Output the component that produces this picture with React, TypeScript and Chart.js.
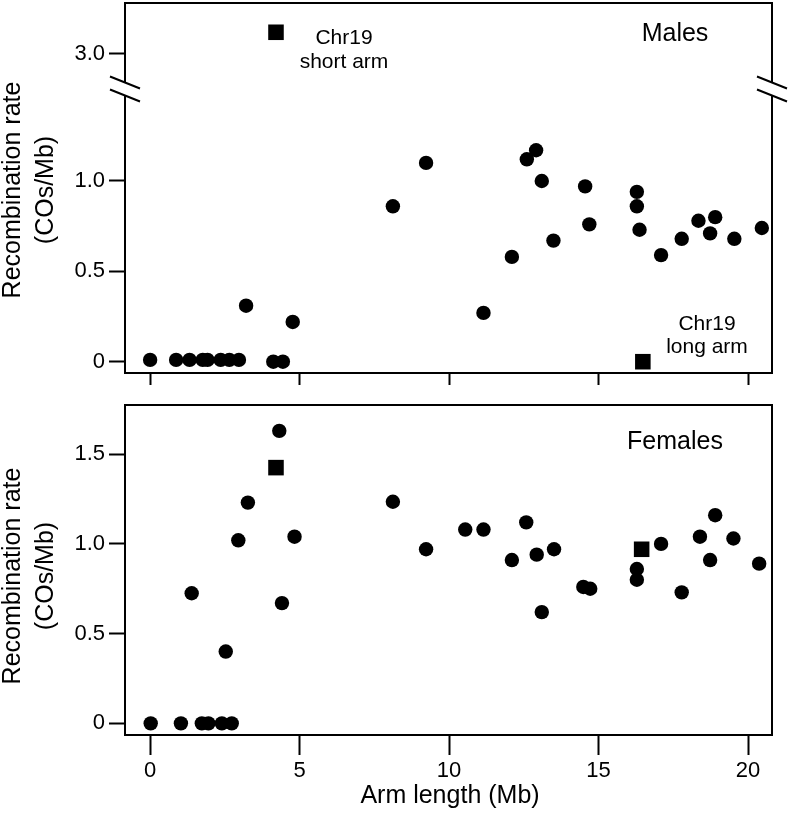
import React, { useEffect, useRef } from 'react';
import { Chart, registerables } from 'chart.js';

Chart.register(...registerables);

const FONT = "'Liberation Sans', Arial, Helvetica, sans-serif";

// ---- Data ----
const xTickValues = [0, 5, 10, 15, 20];
const maleLowerTicks = [0, 0.5, 1.0];
const maleUpperTicks = [3.0];
const femaleTicks = [0, 0.5, 1.0, 1.5];

// Males: arm length (Mb) and recombination rate (COs/Mb)
const maleArmLength = [0.0, 0.87, 1.32, 1.76, 1.92, 2.36, 2.65, 2.97, 3.21, 4.12, 4.44, 4.77, 8.12, 9.23, 11.15, 12.1, 12.6, 12.91, 13.1, 13.49, 14.55, 14.69, 16.28, 16.28, 16.37, 17.09, 17.78, 18.34, 18.73, 18.9, 19.54, 20.46];
const maleRate = [0.01, 0.01, 0.01, 0.01, 0.01, 0.01, 0.01, 0.01, 0.31, 0.0, 0.0, 0.22, 0.86, 1.1, 0.27, 0.58, 1.12, 1.17, 1.0, 0.67, 0.97, 0.76, 0.94, 0.86, 0.73, 0.59, 0.68, 0.78, 0.71, 0.8, 0.68, 0.74];
const maleChr19ShortLength = [4.21];
const maleChr19ShortRate = [3.12];
const maleChr19LongLength = [16.48];
const maleChr19LongRate = [0.0];

// Females
const femaleArmLength = [0.02, 1.03, 1.39, 1.73, 1.95, 2.4, 2.53, 2.73, 2.95, 3.27, 4.32, 4.41, 4.83, 8.12, 9.23, 10.54, 11.15, 12.1, 12.58, 12.93, 13.1, 13.51, 14.49, 14.72, 16.28, 16.28, 17.09, 17.78, 18.39, 18.73, 18.9, 19.51, 20.37];
const femaleRate = [0, 0, 0.725, 0, 0, 0, 0.4, 0, 1.02, 1.23, 1.63, 0.67, 1.04, 1.235, 0.97, 1.08, 1.08, 0.91, 1.12, 0.94, 0.62, 0.97, 0.76, 0.75, 0.86, 0.8, 1.0, 0.73, 1.04, 0.91, 1.16, 1.03, 0.89];
const femaleChr19Length = [4.21, 16.44];
const femaleChr19Rate = [1.425, 0.97];

const toPoints = (xs: number[], ys: number[]) => xs.map((x, i) => ({ x, y: ys[i] }));
const tickLabel = (v: any) => (Number(v) === 0 ? '0' : Number(v).toFixed(1));

type TextItem = { lines: string[]; x: number; y: number; size: number; lh: number };

function decorPlugin(cfg: { breaks: boolean; texts: TextItem[]; yTitleCenter: number; xTitle?: { x: number; y: number } }) {
  return {
    id: 'decor',
    afterDatasetsDraw(chart: any) {
      const ctx: CanvasRenderingContext2D = chart.ctx;
      const { left, top, right, bottom } = chart.chartArea;
      ctx.save();
      ctx.strokeStyle = '#000';
      ctx.lineWidth = 2;
      ctx.strokeRect(left, top, right - left, bottom - top);
      if (cfg.breaks) {
        const b = chart.scales.y.top;
        for (const X of [left, right]) {
          ctx.fillStyle = '#fff';
          ctx.beginPath();
          ctx.moveTo(X - 15, b - 12.5);
          ctx.lineTo(X + 15, b - 0.5);
          ctx.lineTo(X + 15, b + 12.5);
          ctx.lineTo(X - 15, b + 0.5);
          ctx.closePath();
          ctx.fill();
          ctx.beginPath();
          ctx.moveTo(X - 15, b - 12.5);
          ctx.lineTo(X + 15, b - 0.5);
          ctx.moveTo(X - 15, b + 0.5);
          ctx.lineTo(X + 15, b + 12.5);
          ctx.stroke();
        }
      }
      ctx.fillStyle = '#000';
      ctx.textAlign = 'center';
      ctx.textBaseline = 'alphabetic';
      for (const t of cfg.texts) {
        ctx.font = `${t.size}px ${FONT}`;
        t.lines.forEach((ln, i) => ctx.fillText(ln, t.x, t.y + i * t.lh));
      }
      // y-axis title (rotated)
      ctx.font = `25px ${FONT}`;
      const yTitle = ['Recombination rate', '(COs/Mb)'];
      const baseX = [20, 53];
      yTitle.forEach((ln, i) => {
        ctx.save();
        ctx.translate(baseX[i], cfg.yTitleCenter);
        ctx.rotate(-Math.PI / 2);
        ctx.fillText(ln, 0, 0);
        ctx.restore();
      });
      if (cfg.xTitle) {
        ctx.font = `25px ${FONT}`;
        ctx.fillText('Arm length (Mb)', cfg.xTitle.x, cfg.xTitle.y);
      }
      ctx.restore();
    },
  };
}

const gridOpts = (len: number) => ({
  drawOnChartArea: false,
  drawTicks: true,
  tickLength: len,
  tickWidth: 2,
  tickColor: '#000',
});

const yTickOpts = {
  color: '#000',
  font: { family: FONT, size: 22 },
  padding: 4,
  callback: tickLabel,
};

const fitY = (s: any) => {
  s.width = 125;
  s.paddingTop = 0;
  s.paddingBottom = 0;
};
const fitX = (h: number) => (s: any) => {
  s.height = h;
  s.paddingLeft = 0;
  s.paddingRight = 0;
};

const pointDs = (data: any[], yAxisID: string, square: boolean) => ({
  data,
  yAxisID,
  backgroundColor: '#000',
  borderColor: '#000',
  borderWidth: 0,
  pointStyle: square ? 'rect' : 'circle',
  pointRadius: square ? 11 : 7.2,
  pointBorderWidth: 0,
  pointHoverRadius: square ? 11 : 7.2,
});

function makeMales(canvas: HTMLCanvasElement) {
  return new Chart(canvas, {
    type: 'scatter',
    data: {
      datasets: [
        pointDs(toPoints(maleArmLength, maleRate), 'y', false),
        pointDs(toPoints(maleChr19LongLength, maleChr19LongRate), 'y', true),
        pointDs(toPoints(maleChr19ShortLength, maleChr19ShortRate), 'yBreak', true),
      ] as any,
    },
    options: {
      animation: false,
      responsive: false,
      devicePixelRatio: 1,
      layout: { autoPadding: false, padding: { left: 0, right: 17, top: 3, bottom: 0 } },
      plugins: { legend: { display: false }, tooltip: { enabled: false } },
      scales: {
        x: {
          type: 'linear',
          min: -0.84,
          max: 20.8,
          afterBuildTicks: (s: any) => { s.ticks = xTickValues.map((v) => ({ value: v })); },
          ticks: { display: false },
          grid: gridOpts(12),
          border: { display: false },
          afterFit: fitX(22),
        },
        y: {
          type: 'linear',
          position: 'left',
          stack: 'males',
          stackWeight: 284,
          min: -0.0625,
          max: 1.509,
          afterBuildTicks: (s: any) => { s.ticks = maleLowerTicks.map((v) => ({ value: v })); },
          ticks: yTickOpts,
          grid: gridOpts(16),
          border: { display: false },
          afterFit: fitY,
        },
        yBreak: {
          type: 'linear',
          position: 'left',
          stack: 'males',
          stackWeight: 86,
          min: 2.806,
          max: 3.282,
          afterBuildTicks: (s: any) => { s.ticks = maleUpperTicks.map((v) => ({ value: v })); },
          ticks: yTickOpts,
          grid: gridOpts(16),
          border: { display: false },
          afterFit: fitY,
        },
      } as any,
    },
    plugins: [
      decorPlugin({
        breaks: true,
        yTitleCenter: 190,
        texts: [
          { lines: ['Males'], x: 675, y: 41, size: 25, lh: 0 },
          { lines: ['Chr19', 'short arm'], x: 344, y: 44, size: 21, lh: 24 },
          { lines: ['Chr19', 'long arm'], x: 707, y: 330, size: 21, lh: 23 },
        ],
      }),
    ],
  });
}

function makeFemales(canvas: HTMLCanvasElement) {
  return new Chart(canvas, {
    type: 'scatter',
    data: {
      datasets: [
        pointDs(toPoints(femaleArmLength, femaleRate), 'y', false),
        pointDs(toPoints(femaleChr19Length, femaleChr19Rate), 'y', true),
      ] as any,
    },
    options: {
      animation: false,
      responsive: false,
      devicePixelRatio: 1,
      layout: { autoPadding: false, padding: { left: 0, right: 17, top: 10, bottom: 0 } },
      plugins: { legend: { display: false }, tooltip: { enabled: false } },
      scales: {
        x: {
          type: 'linear',
          min: -0.84,
          max: 20.8,
          afterBuildTicks: (s: any) => { s.ticks = xTickValues.map((v) => ({ value: v })); },
          ticks: { color: '#000', font: { family: FONT, size: 22 }, padding: 3, maxRotation: 0, callback: (v: any) => String(v) },
          grid: gridOpts(20),
          border: { display: false },
          afterFit: fitX(79),
        },
        y: {
          type: 'linear',
          position: 'left',
          min: -0.065,
          max: 1.774,
          afterBuildTicks: (s: any) => { s.ticks = femaleTicks.map((v) => ({ value: v })); },
          ticks: yTickOpts,
          grid: gridOpts(16),
          border: { display: false },
          afterFit: fitY,
        },
      } as any,
    },
    plugins: [
      decorPlugin({
        breaks: false,
        yTitleCenter: 181,
        texts: [{ lines: ['Females'], x: 675, y: 54, size: 25, lh: 0 }],
        xTitle: { x: 450, y: 408 },
      }),
    ],
  });
}

export default function App() {
  const topRef = useRef<HTMLCanvasElement>(null);
  const botRef = useRef<HTMLCanvasElement>(null);
  useEffect(() => {
    const a = makeMales(topRef.current!);
    const b = makeFemales(botRef.current!);
    return () => { a.destroy(); b.destroy(); };
  }, []);
  return (
    <div style={{ position: 'fixed', left: 0, top: 0, width: 789, height: 814, background: '#fff' }}>
      <canvas ref={topRef} width={789} height={395} style={{ position: 'absolute', left: 0, top: 0, width: 789, height: 395, display: 'block' }} />
      <canvas ref={botRef} width={789} height={419} style={{ position: 'absolute', left: 0, top: 395, width: 789, height: 419, display: 'block' }} />
    </div>
  );
}
